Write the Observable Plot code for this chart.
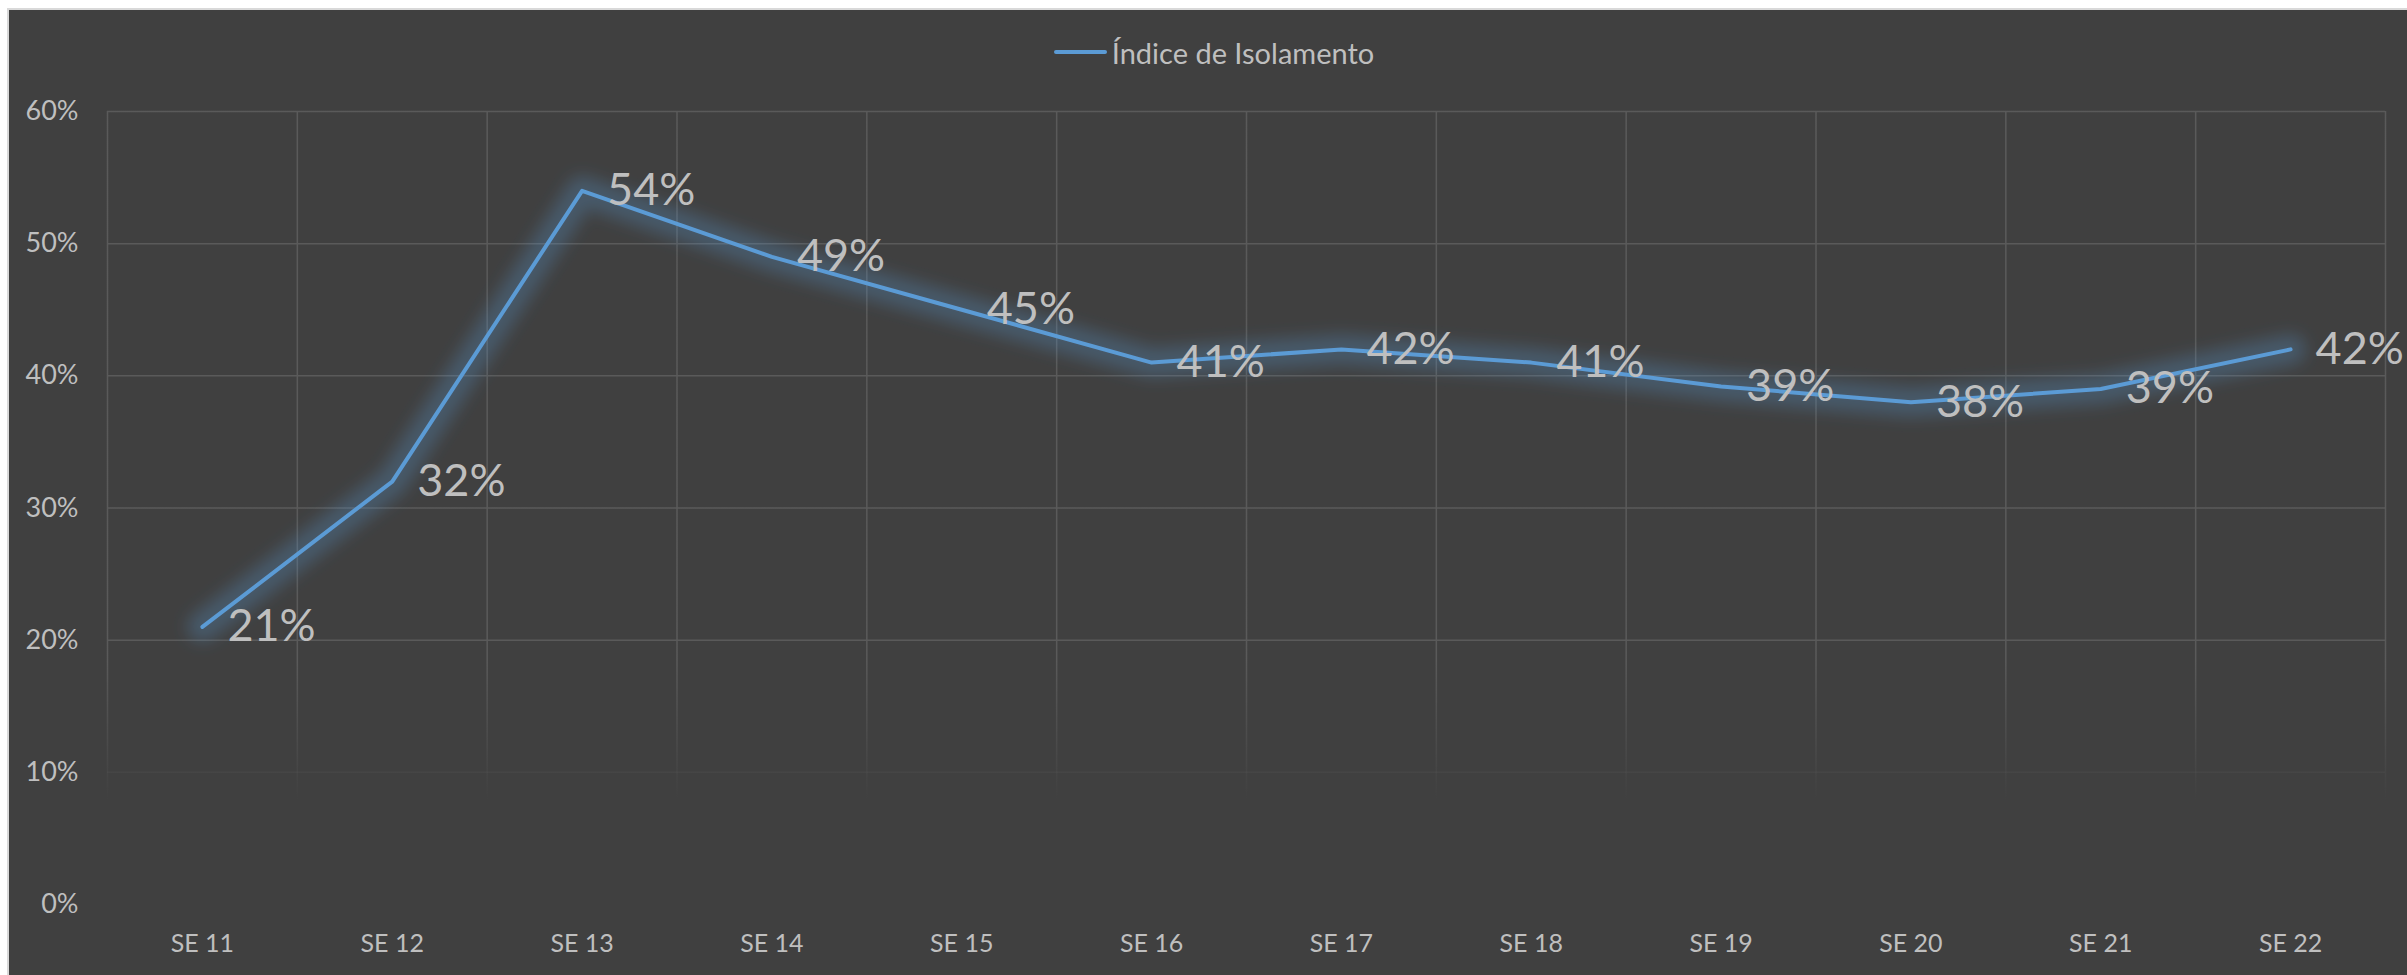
<!DOCTYPE html>
<html><head><meta charset="utf-8">
<script src="https://cdn.jsdelivr.net/npm/d3@7"></script>
<script src="https://cdn.jsdelivr.net/npm/@observablehq/plot@0.6"></script>
<style>
html,body{margin:0;padding:0;background:#fff;width:2407px;height:975px;overflow:hidden}
#chart{position:absolute;left:7px;top:8px;width:2400px;height:967px;box-sizing:border-box;background:#404040;border-left:2px solid #d9d9d9;border-top:2px solid #d9d9d9;font-family:Lato,sans-serif;overflow:hidden}
#legend{height:70px;box-sizing:border-box;padding-top:14px;padding-left:12px;display:flex;justify-content:center;align-items:center;color:#bfbfbf;font-size:29px}
#legend .sw{width:53px;height:4px;border-radius:2px;background:#5B9BD5;margin-right:5px}
</style></head>
<body>
<div id="chart">
  <div id="legend"><span class="sw"></span><span>Índice de Isolamento</span></div>
  <div id="plot"></div>
</div>
<script>
const weeks = ["SE 11","SE 12","SE 13","SE 14","SE 15","SE 16","SE 17","SE 18","SE 19","SE 20","SE 21","SE 22"];
const values = [0.21,0.32,0.54,0.49,0.45,0.41,0.42,0.41,0.392,0.38,0.39,0.42];
const yTicks = [0,0.1,0.2,0.3,0.4,0.5,0.6];

const data = weeks.map((w,i)=>({i, week:w, v:values[i]}));
const bounds = weeks.map((w,i)=>i-0.5).concat([weeks.length-0.5]);
const pct = d3.format(".0%");

const chart = Plot.plot({
  width: 2398, height: 895,
  marginLeft: 98, marginRight: 22, marginTop: 31, marginBottom: 71,
  style: {background:"transparent", color:"#bfbfbf", fontFamily:"Lato, sans-serif", fontSize:"26px"},
  x: {type:"linear", domain:[-0.5, weeks.length-0.5]},
  y: {domain:[0,0.6]},
  marks: [
    Plot.ruleY(yTicks, {stroke:"url(#gridfade)", strokeWidth:1.5}),
    Plot.ruleX(bounds, {stroke:"url(#gridfade)", strokeWidth:1.5}),
    Plot.line(data, {x:"i", y:"v", stroke:"#5B9BD5", strokeWidth:30, strokeOpacity:0.28, strokeLinejoin:"round", strokeLinecap:"round"}),
    Plot.line(data, {x:"i", y:"v", stroke:"#5B9BD5", strokeWidth:4, strokeLinejoin:"round", strokeLinecap:"round"}),
    Plot.text(data, {x:"i", y:"v", text:d=>pct(d.v), textAnchor:"start", dx:25, fontSize:45, fill:"#bfbfbf"}),
    Plot.axisY(yTicks, {tickSize:0, tickPadding:29, tickFormat:pct, fontSize:27, label:null}),
    Plot.axisX(weeks.map((w,i)=>i), {tickSize:0, tickPadding:30, tickFormat:i=>weeks[i], fontSize:25, label:null})
  ]
});
chart.insertAdjacentHTML("afterbegin",
  `<defs>
    <linearGradient id="gridfade" gradientUnits="userSpaceOnUse" x1="0" y1="580" x2="0" y2="720">
      <stop offset="0" stop-color="#5a5a5a" stop-opacity="1"/>
      <stop offset="1" stop-color="#5a5a5a" stop-opacity="0"/>
    </linearGradient>
    <filter id="glowf" filterUnits="userSpaceOnUse" x="0" y="0" width="2398" height="895">
      <feGaussianBlur stdDeviation="8"/>
    </filter>
  </defs>`);
const lines = chart.querySelectorAll('g[aria-label="line"]');
if (lines.length) lines[0].setAttribute("filter","url(#glowf)");
document.getElementById("plot").appendChild(chart);
</script>
</body></html>
